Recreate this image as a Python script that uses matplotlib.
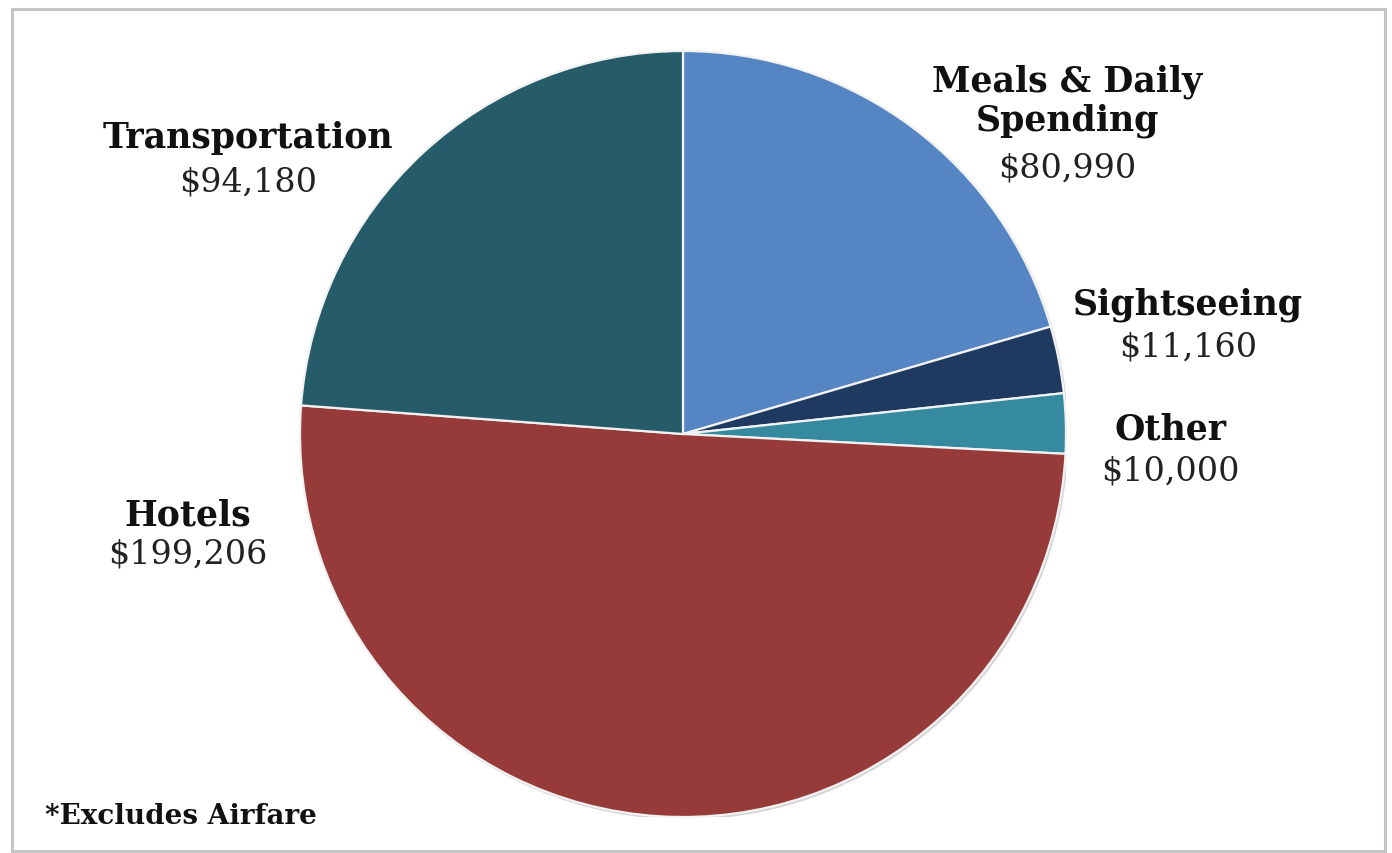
import matplotlib.pyplot as plt
from matplotlib.patches import Rectangle, Circle

# Spending categories (clockwise from the top)
categories = ['Meals & Daily\nSpending', 'Sightseeing', 'Other', 'Hotels', 'Transportation']
amounts = [80990, 11160, 10000, 199206, 94180]
colors = ['#5585C2', '#1F3A60', '#358A9F', '#963A3A', '#265C6A']
note = '*Excludes Airfare'

W, H = 1392, 854
fig = plt.figure(figsize=(W / 100, H / 100), dpi=100)
fig.patch.set_facecolor('white')

# outer frame
fig.patches.append(Rectangle((12 / W, 1 - 852 / H), (1385 - 12) / W, (852 - 10) / H,
                             transform=fig.transFigure, fill=False,
                             edgecolor='#c4c4c4', lw=2.2))

cx, cy, r = 683, 435, 383
ax = fig.add_axes([(cx - r) / W, (H - cy - r) / H, 2 * r / W, 2 * r / H])
ax.axis('off')

# faint shadow under the pie
ax.add_patch(Circle((0.004, -0.005), 1.0, color='#d6d6d6', zorder=0))

ax.pie(amounts, colors=colors, startangle=90, counterclock=False, radius=1.0,
       wedgeprops=dict(edgecolor='#f2f2f2', linewidth=1.6))
ax.set_xlim(-1, 1)
ax.set_ylim(-1, 1)

# label placement in pixels (x, name centre y, value centre y)
label_pos = {
    'Meals & Daily\nSpending': (1067, 101, 168),
    'Sightseeing': (1188, 305, 348),
    'Other': (1170, 430, 472),
    'Hotels': (188, 515, 555),
    'Transportation': (248, 138, 182),
}

font = 'DejaVu Serif'
for cat, amt in zip(categories, amounts):
    x, yn, yv = label_pos[cat]
    fig.text(x / W, 1 - yn / H, cat, ha='center', va='center', fontsize=25,
             fontweight='bold', family=font, color='#111111', linespacing=1.15)
    fig.text(x / W, 1 - yv / H, '${:,}'.format(amt), ha='center', va='center',
             fontsize=24, family=font, color='#222222')

fig.text(45 / W, 1 - 817 / H, note, ha='left', va='center', fontsize=20,
         fontweight='bold', family=font, color='#111111')

fig.savefig('out.png', dpi=100, facecolor='white')
